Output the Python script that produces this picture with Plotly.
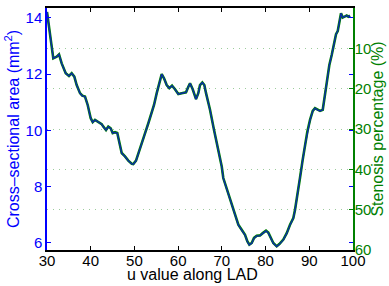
import plotly.graph_objects as go

# u value along LAD
u = [30.0, 30.69, 31.14, 31.44, 32.22, 32.75, 33.36, 34.28, 35.03, 35.65, 36.25, 36.79,
     37.55, 38.08, 38.69, 39.31, 40.0, 40.46, 40.98, 41.74, 42.51, 42.88, 43.50, 44.02,
     44.57, 45.03, 45.56, 46.08, 46.54, 47.09, 47.84, 48.60, 49.38, 49.74, 50.36, 50.89,
     51.44, 52.19, 53.18, 53.95, 54.48, 55.10, 55.69, 56.24, 56.77, 57.38, 57.98, 58.60,
     59.28, 60.04, 60.82, 61.80, 62.33, 62.72, 63.33, 64.09, 64.61, 65.0, 65.53, 65.99,
     66.38, 67.29, 68.21, 69.19, 69.97, 70.33, 70.95, 71.48, 72.26, 73.01, 73.77, 74.54,
     75.30, 75.82, 76.28, 76.83, 77.36, 77.98, 78.73, 79.35, 80.10, 80.63, 81.18, 81.77,
     82.55, 83.15, 84.06, 84.84, 85.59, 86.35, 86.74, 87.26, 87.88, 88.45, 89.03, 89.55,
     90.17, 90.79, 91.31, 91.84, 92.46, 93.08, 93.37, 93.99, 94.59, 95.13, 95.66, 96.12,
     96.51, 96.87, 97.26, 97.65, 98.18, 98.57, 98.93, 99.32]

# Cross-sectional area (mm^2)
area = [14.21, 13.39, 12.86, 12.56, 12.62, 12.70, 12.38, 12.03, 11.93, 12.03, 11.91, 11.61,
        11.32, 11.23, 11.20, 10.90, 10.43, 10.29, 10.37, 10.31, 10.22, 10.13, 10.01, 10.13,
        10.07, 9.90, 9.93, 9.90, 9.54, 9.19, 9.07, 8.92, 8.81, 8.80, 8.92, 9.19,
        9.48, 9.78, 10.25, 10.61, 10.90, 11.32, 11.73, 12.00, 11.85, 11.61, 11.50, 11.59,
        11.46, 11.29, 11.32, 11.35, 11.55, 11.67, 11.46, 11.11, 11.32, 11.61, 11.70, 11.61,
        11.32, 10.73, 10.01, 9.30, 8.71, 8.30, 8.00, 7.82, 7.41, 7.05, 6.64, 6.46,
        6.28, 6.05, 5.93, 5.99, 6.17, 6.25, 6.26, 6.34, 6.43, 6.36, 6.17, 5.99,
        5.87, 5.95, 6.11, 6.34, 6.64, 6.88, 7.17, 7.76, 8.31, 8.91, 9.48, 9.95,
        10.37, 10.69, 10.79, 10.73, 10.69, 10.73, 11.02, 11.73, 12.32, 12.68, 13.15, 13.42,
        13.53, 13.86, 14.16, 14.01, 14.04, 14.08, 14.04, 14.08]

ref_area = 14.35  # reference (healthy) area for stenosis percentage
stenosis = [100.0 * (1.0 - a / ref_area) for a in area]

x_ticks = [30, 40, 50, 60, 70, 80, 90, 100]
left_ticks = [6, 8, 10, 12, 14]
right_ticks = [0, 10, 20, 30, 40, 50, 60]

BLUE = "#0000ff"
GREEN = "#008000"
FONT = "Liberation Sans, Arial, Helvetica, sans-serif"

fig = go.Figure()
fig.add_trace(go.Scatter(x=u, y=stenosis, yaxis="y2", mode="lines",
                         line=dict(color=GREEN, width=2.6), showlegend=False))
fig.add_trace(go.Scatter(x=u, y=area, yaxis="y", mode="lines",
                         line=dict(color="#0a2aa8", width=1.4), showlegend=False))

fig.update_layout(
    width=389, height=286,
    margin=dict(l=47, r=36, t=8, b=36, autoexpand=False),
    paper_bgcolor="white", plot_bgcolor="white",
    font=dict(family=FONT, size=15, color="black"),
    xaxis=dict(range=[30, 100], tickvals=x_ticks, ticks="inside", ticklen=4,
               tickcolor="black", showline=True, linecolor="black", linewidth=1.5,
               mirror="ticks", showgrid=False, zeroline=False, ticklabelstandoff=-4,
               automargin=False, tickfont=dict(size=15, color="black")),
    yaxis2=dict(range=[60, 0], tickvals=right_ticks, side="right", ticks="inside",
                ticklen=4, tickcolor=GREEN, showline=True, linecolor=GREEN, linewidth=1.5,
                showgrid=True, gridcolor="#9ccc9c", griddash="1px,5px", gridwidth=1,
                zeroline=False, ticklabelstandoff=-3, automargin=False,
                tickfont=dict(size=15, color=GREEN)),
    yaxis=dict(range=[5.75, 14.35], tickvals=left_ticks, side="left", overlaying="y2",
               ticks="inside", ticklen=4, tickcolor=BLUE, showline=True, linecolor=BLUE,
               linewidth=1.5, mirror=False, showgrid=False, zeroline=False,
               automargin=False, tickfont=dict(size=15, color=BLUE)),
    yaxis3=dict(range=[5.75, 14.35], tickvals=left_ticks, side="right", overlaying="y2",
                ticks="inside", ticklen=4, tickcolor=BLUE, showline=False,
                automargin=False, showticklabels=False, showgrid=False, zeroline=False),
    annotations=[
        dict(text="u value along LAD", xref="paper", yref="paper", x=0.475, y=-0.1,
             xanchor="center", yanchor="middle", showarrow=False,
             font=dict(size=16, color="black")),
        dict(text="Cross–sectional area (mm<sup>2</sup>)", xref="paper", yref="paper",
             x=-0.114, y=0.5, xanchor="center", yanchor="middle", textangle=-90,
             showarrow=False, font=dict(size=16, color=BLUE)),
        dict(text="Stenosis percentage (%)", xref="paper", yref="paper",
             x=1.077, y=0.5, xanchor="center", yanchor="middle", textangle=-90,
             showarrow=False, font=dict(size=16, color=GREEN)),
    ],
)
# invisible trace to activate the mirrored blue ticks on the right
fig.add_trace(go.Scatter(x=[u[0]], y=[area[0]], yaxis="y3", mode="lines",
                         line=dict(width=0), hoverinfo="skip", showlegend=False))

fig.write_html("out.html", config={"displayModeBar": False},
               post_script="document.body.style.margin='0';document.body.style.padding='0';")
